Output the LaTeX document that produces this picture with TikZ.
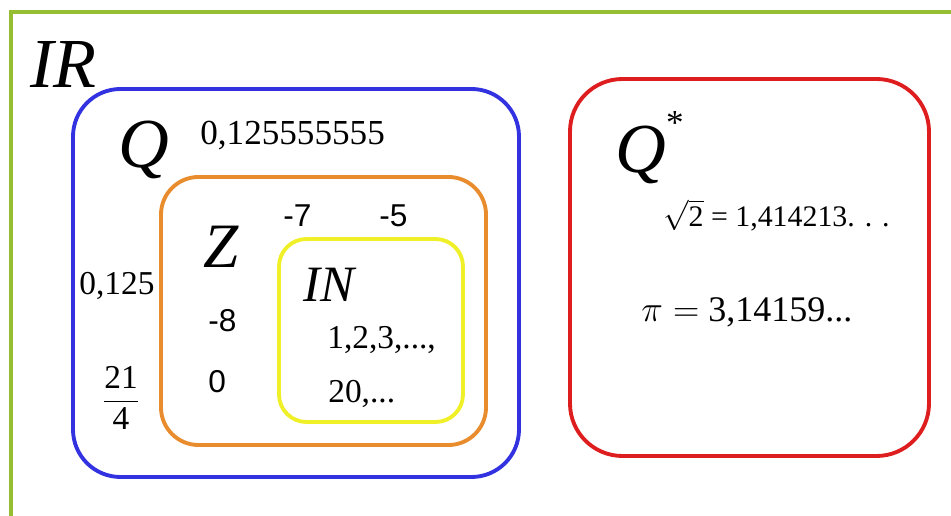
\documentclass[tikz,border=0pt]{standalone}
\usepackage{amsmath}
\usepackage{fontspec}
\setmainfont{Liberation Serif}
\setsansfont{Liberation Sans}
\usepackage{tikz}
\usetikzlibrary{positioning}

\definecolor{frameGreen}{RGB}{150,190,50}
\definecolor{setBlue}{RGB}{50,50,225}
\definecolor{setOrange}{RGB}{232,140,45}
\definecolor{setYellow}{RGB}{240,240,40}
\definecolor{setRed}{RGB}{222,30,30}

\begin{document}
\begin{tikzpicture}[
    x=0.02cm, y=-0.02cm,
    setbox/.style={line width=2.2pt},
    bigname/.style={font=\fontsize{40}{46}\selectfont\itshape, inner sep=0pt, anchor=base west},
    num/.style={font=\fontsize{19}{22}\selectfont, inner sep=0pt, anchor=base west},
    snum/.style={font=\sffamily\fontsize{18}{21}\selectfont, inner sep=0pt, anchor=base west}
]
\useasboundingbox (0,0) rectangle (951,516);

% Outer frame (only top and left edge visible)
\draw[frameGreen, line width=2.4pt] (11,520) -- (11,12) -- (955,12);

% Set boxes
\draw[setbox, setBlue, rounded corners=0.95cm] (73,89) rectangle (519,477);
\draw[setbox, setOrange, rounded corners=0.75cm] (161,177) rectangle (486,445);
\draw[setbox, setYellow, rounded corners=0.55cm] (279,239) rectangle (463,422);
\draw[setbox, setRed, rounded corners=1.05cm] (570,79) rectangle (929,456);

% Names of the sets
\node[bigname] (R) at (30,88) {IR};
\node[bigname] (Q) at (118,168) {Q};
\node[bigname, font=\fontsize{36}{42}\selectfont\itshape] (Z) at (203,268) {Z};
\node[bigname, font=\fontsize{29}{34}\selectfont\itshape] (N) at (303,302) {IN};
\node[bigname] (Qs) at (615,173) {Q\raisebox{0.55em}{\upshape\fontsize{20}{24}\selectfont *}};

% Elements of Q
\node[num, font=\fontsize{20}{24}\selectfont] (qa) at (200,145) {0,125555555};
\node[num] (qb) at (79,295) {0,125};
\node[num, anchor=center] (qc) at (121,398) {$\dfrac{\text{21}}{\text{4}}$};

% Elements of Z
\node[snum] (za) at (283,227) {-7};
\node[snum] (zb) at (379,227) {-5};
\node[snum] (zc) at (208,332) {-8};
\node[snum] (zd) at (208,393) {0};

% Elements of N
\node[num] (na) at (327,349) {1,2,3,...,};
\node[num] (nb) at (328,403) {20,...};

% Irrational numbers
\node[num, font=\fontsize{17}{20}\selectfont] (ia) at (663,227) {$\sqrt{\text{2}}$ = 1,414213. . .};
\node[num, font=\fontsize{20.5}{24}\selectfont] (ib) at (641,322) {$\pi = $ 3,14159...};

\end{tikzpicture}
\end{document}
